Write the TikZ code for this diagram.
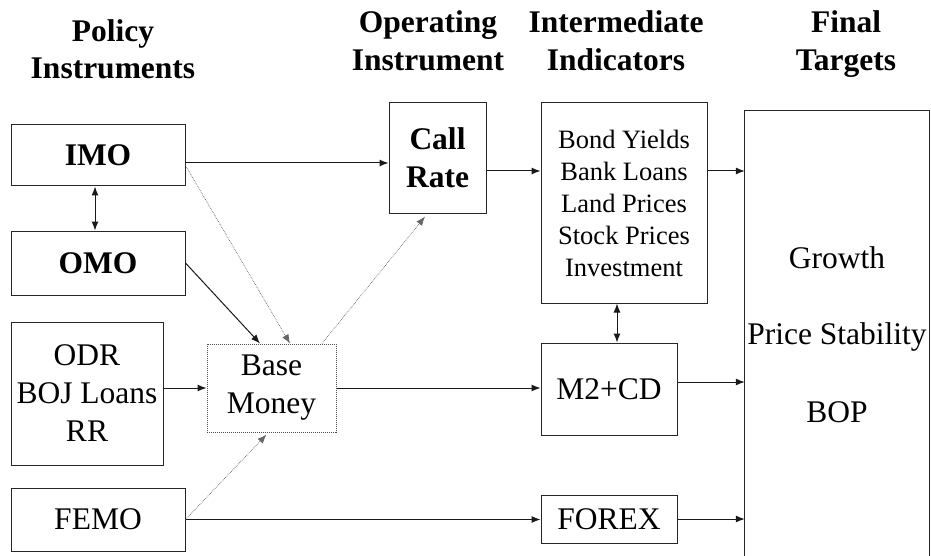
\documentclass[tikz,border=0pt]{standalone}
\usepackage{fontspec}
\setmainfont{Liberation Serif}
\usetikzlibrary{arrows.meta}

\tikzset{
  box/.style={draw=black!85, line width=1pt, rectangle, inner sep=0pt, align=center,
              font=\fontsize{31.5}{38}\selectfont},
  bbox/.style={box, font=\fontsize{31.5}{38}\selectfont\bfseries},
  smallbox/.style={box, font=\fontsize{26.5}{32}\selectfont},
  head/.style={anchor=base, inner sep=0pt, font=\fontsize{31.5}{38}\selectfont\bfseries},
  goal/.style={anchor=base, inner sep=0pt, font=\fontsize{31.5}{38}\selectfont},
  tip/.style={Latex[length=9pt,width=7pt]},
  arr/.style={draw=black!90, line width=1pt, -{Latex[length=9pt,width=7pt]}},
  dblarr/.style={draw=black!90, line width=1pt, {Latex[length=9pt,width=7pt]}-{Latex[length=9pt,width=7pt]}},
  dotarr/.style={draw=black!60, line width=0.7pt, densely dotted, -{Latex[length=9pt,width=7pt]}},
}

\begin{document}
\begin{tikzpicture}[x=1pt, y=-1pt]
\useasboundingbox (0,0) rectangle (931,556);

% column headings
\node[head] (h1a) at (113,42) {Policy};
\node[head] (h1b) at (113,79) {Instruments};
\node[head] (h2a) at (428,33) {Operating};
\node[head] (h2b) at (428,71) {Instrument};
\node[head] (h3a) at (616,33) {Intermediate};
\node[head] (h3b) at (616,71) {Indicators};
\node[head] (h4a) at (846,33) {Final};
\node[head] (h4b) at (846,71) {Targets};

% policy instruments
\node[bbox, minimum width=174pt, minimum height=61pt] (imo) at (98,155.5) {IMO};
\node[bbox, minimum width=174pt, minimum height=64pt] (omo) at (98,263) {OMO};
\node[box, minimum width=152pt, minimum height=143pt] (odr) at (87,393.5) {ODR\\BOJ Loans\\RR};
\node[box, minimum width=174pt, minimum height=63pt] (femo) at (98,519.5) {FEMO};

% base money
\node[box, draw=black!70, densely dotted, minimum width=129pt, minimum height=88pt] (base) at (271.5,388) {Base\\Money};

% operating instrument
\node[bbox, minimum width=97pt, minimum height=110pt] (call) at (437.5,158) {Call\\Rate};

% intermediate indicators
\node[smallbox, minimum width=166pt, minimum height=200pt] (inter) at (624,203)
  {Bond Yields\\Bank Loans\\Land Prices\\Stock Prices\\Investment};
\node[box, minimum width=136pt, minimum height=92pt] (m2) at (609,389) {M2+CD};
\node[box, minimum width=136pt, minimum height=48pt] (forex) at (609,519) {FOREX};

% final targets: box open at the bottom edge
\node[rectangle, inner sep=0pt, minimum width=184pt, minimum height=445pt] (fin) at (837,333.5) {};
\draw[black!85, line width=1pt] (fin.south west) -- (fin.north west) -- (fin.north east) -- (fin.south east);
\node[goal] (g1) at (837,268) {Growth};
\node[goal] (g2) at (837,344) {Price Stability};
\node[goal] (g3) at (837,422) {BOP};

% connectors
\draw[arr] ([yshift=-7.5pt]imo.east) -- ([yshift=-7.5pt]imo.east -| call.west);
\draw[dblarr] ([xshift=-3pt]imo.south) -- ([xshift=-3pt]omo.north);
\draw[arr] (omo.east) -- ([xshift=-11.5pt]base.north);
\draw[dotarr] ([yshift=-10pt]imo.east) -- ([xshift=18.5pt]base.north);
\draw[dotarr, shorten >=4pt] ([xshift=50.5pt]base.north) -- ([xshift=-10pt]call.south);
\draw[arr] (odr.east |- base.west) -- (base.west);
\draw[arr] (base.east) -- (base.east -| m2.west);
\draw[dotarr, shorten >=3pt] (femo.east) -- ([xshift=-3pt]base.south);
\draw[arr] (femo.east) -- (femo.east -| forex.west);
\draw[arr] ([yshift=-13pt]call.east) -- ([yshift=-13pt]call.east -| inter.west);
\draw[arr] ([yshift=32pt]inter.east) -- ([yshift=32pt]inter.east -| fin.west);
\draw[dblarr] ([xshift=-7pt]inter.south) -- ([xshift=-7pt]inter.south |- m2.north);
\draw[arr] ([yshift=7pt]m2.east) -- ([yshift=7pt]m2.east -| fin.west);
\draw[arr] (forex.east) -- (forex.east -| fin.west);
\end{tikzpicture}
\end{document}
